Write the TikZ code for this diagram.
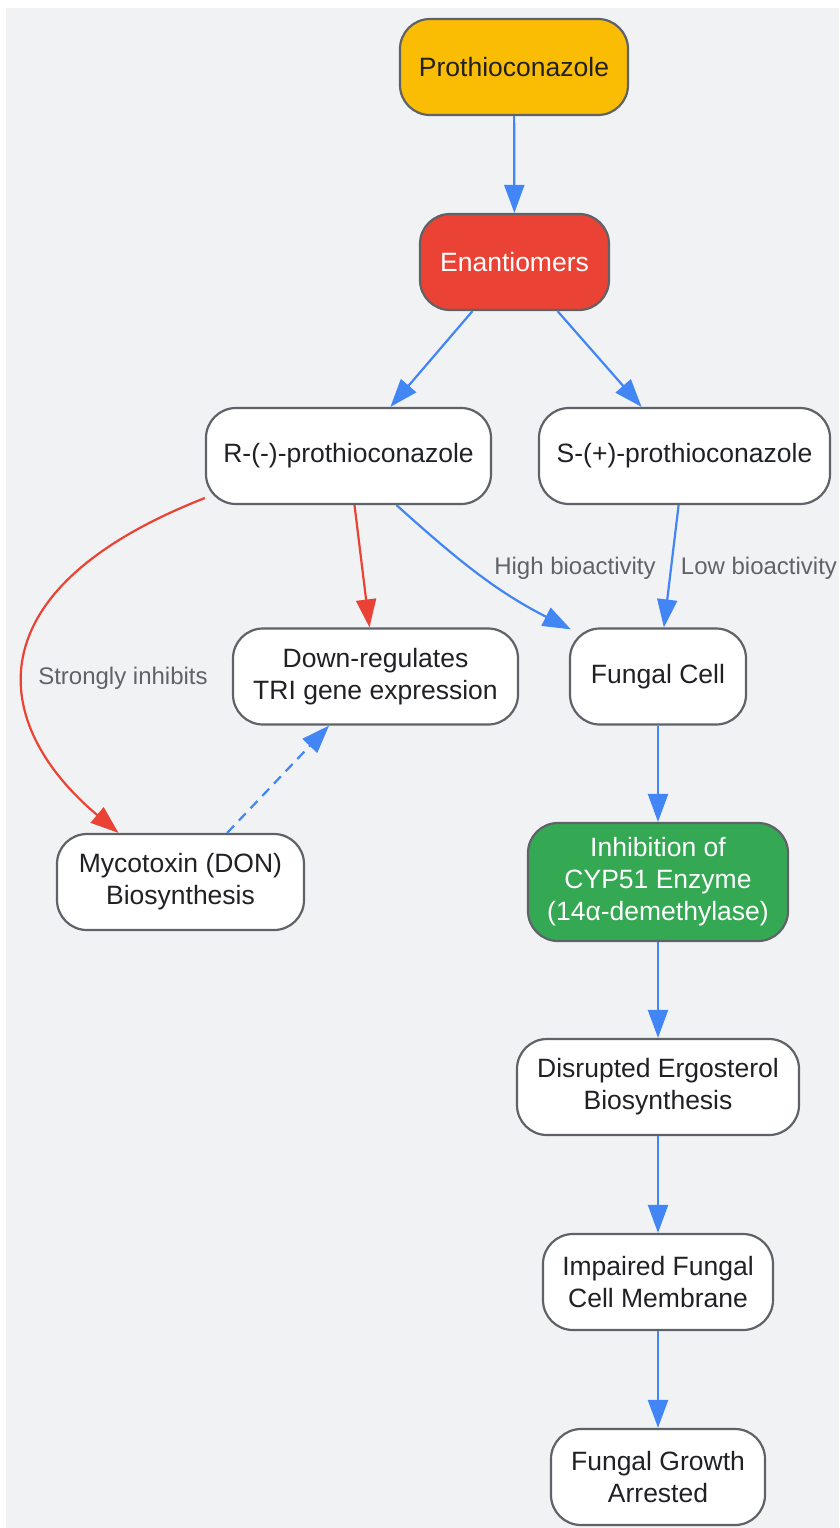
\documentclass[tikz,border=0pt]{standalone}
\usepackage{fontspec}
\setmainfont{Liberation Sans}
\usetikzlibrary{arrows.meta}
\definecolor{bg}{HTML}{F1F2F4}
\definecolor{bordc}{HTML}{5F6368}
\definecolor{txt}{HTML}{202124}
\definecolor{gyellow}{HTML}{FBBC04}
\definecolor{gred}{HTML}{EA4335}
\definecolor{ggreen}{HTML}{34A853}
\definecolor{gblue}{HTML}{4285F4}
\definecolor{lblc}{HTML}{5F6368}
\begin{document}
\begin{tikzpicture}[x=1pt,y=-1pt,
  box/.style={draw=bordc, line width=2.2pt, rounded corners=30pt, fill=white, text=txt,
    font=\fontsize{26.5}{32}\selectfont, align=center, inner sep=0pt, minimum height=96pt},
  lbl/.style={font=\fontsize{24}{28}\selectfont, text=lblc, inner sep=0pt},
  blueedge/.style={draw=gblue, line width=2.2pt, -{Triangle[length=28pt,width=20pt]}},
  rededge/.style={draw=gred, line width=2.2pt, -{Triangle[length=28pt,width=20pt]}}
]
\useasboundingbox (0,0) rectangle (839,1528);
\fill[bg] (6,8) rectangle (839,1528);

\node[box, fill=gyellow, minimum width=228pt] (p) at (514,67) {Prothioconazole};
\node[box, fill=gred, text=white, minimum width=189pt] (e) at (514.5,262) {Enantiomers};
\node[box, minimum width=285pt] (r) at (348.5,456) {R-(-)-prothioconazole};
\node[box, minimum width=291pt] (s) at (684.5,456) {S-(+)-prothioconazole};
\node[box, minimum width=285pt] (d) at (375.5,676.5) {Down-regulates\\TRI gene expression};
\node[box, minimum width=176pt] (f) at (658,676.5) {Fungal Cell};
\node[box, minimum width=247pt] (m) at (180.5,882) {Mycotoxin (DON)\\Biosynthesis};
\node[box, fill=ggreen, text=white, minimum width=260pt, minimum height=118pt] (i) at (658,882) {Inhibition of\\CYP51 Enzyme\\(14α-demethylase)};
\node[box, minimum width=282pt] (g) at (658,1087) {Disrupted Ergosterol\\Biosynthesis};
\node[box, minimum width=230pt] (c) at (658,1282) {Impaired Fungal\\Cell Membrane};
\node[box, minimum width=214pt] (a) at (658,1477) {Fungal Growth\\Arrested};

\node[lbl] (l1) at (575,568) {High bioactivity};
\node[lbl] (l2) at (759,568) {Low bioactivity};
\node[lbl] (l3) at (123,678) {Strongly inhibits};

\draw[blueedge] (p) -- (e);
\draw[blueedge] (e) -- (r);
\draw[blueedge] (e) -- (s);
\draw[rededge] (r) -- (d);
\draw[blueedge] ([xshift=48pt]r.south) to[out=-42,in=153] ([xshift=2pt,yshift=-2pt]f.north west);
\draw[blueedge] (s) -- (f);
\draw[rededge] ([yshift=-42pt]r.west) .. controls (-30,590) and (-10,725) .. ([xshift=-62pt]m.north);
\draw[blueedge, dash pattern=on 10pt off 7pt] (m) -- (d);
\draw[blueedge] (f) -- (i);
\draw[blueedge] (i) -- (g);
\draw[blueedge] (g) -- (c);
\draw[blueedge] (c) -- (a);
\end{tikzpicture}
\end{document}
